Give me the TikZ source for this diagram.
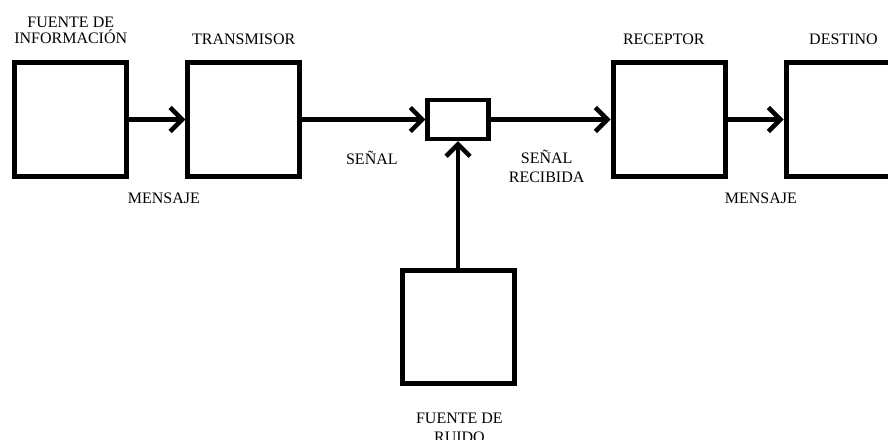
\documentclass[tikz,border=0pt]{standalone}
\usepackage{fontspec}
\setmainfont{Liberation Serif}
\usetikzlibrary{arrows.meta}

\tikzstyle{arrow} = [line width=3.4pt,-{Straight Barb[length=9pt,width=18pt]}]
\tikzstyle{bloque} = [
        rectangle,
        minimum width=84pt,
        minimum height=85pt,
        draw=black,
        line width=3.75pt,
        fill=white
    ]
\tikzstyle{sumador} = [
        rectangle,
        minimum width=45.5pt,
        minimum height=29pt,
        draw=black,
        line width=3.4pt,
        fill=white
    ]
\tikzstyle{etiqueta} = [
        text centered,
        align=center,
        inner sep=0pt,
        font=\fontsize{12}{14}\selectfont
    ]

\begin{document}
\begin{tikzpicture}[x=0.75pt, y=-0.75pt, node distance=129.75pt]
        \clip (0,0) rectangle (888,439);
        \node [bloque] (fuente) at (70.75,119.5) {};
        \node [bloque, right of=fuente] (transmisor) {};
        \node [sumador, right of=transmisor, xshift=31pt] (sumador) {};
        \node [bloque, right of=sumador, xshift=28.5pt] (receptor) {};
        \node [bloque, right of=receptor] (destino) {};
        \node [bloque, below of=sumador, yshift=-26pt] (ruido) {};
        % titulos
        \node [etiqueta, anchor=base, font=\fontsize{12}{12.5}\selectfont] (tfuente) at ([yshift=12.5pt]fuente.north) {FUENTE DE\\INFORMACIÓN};
        \node [etiqueta, anchor=base] (ttransmisor) at ([yshift=12pt]transmisor.north) {TRANSMISOR};
        \node [etiqueta, anchor=base] (treceptor) at ([yshift=12pt, xshift=-4pt]receptor.north) {RECEPTOR};
        \node [etiqueta, anchor=base] (tdestino) at ([yshift=12pt, xshift=1pt]destino.north) {DESTINO};
        \node [etiqueta, anchor=base] (truido) at ([yshift=-42pt, xshift=1pt]ruido.south) {FUENTE DE\\RUIDO};
        % conexiones
        \draw [arrow] (fuente) -- (transmisor) node[etiqueta, midway, anchor=base, xshift=5pt, yshift=-63pt]{MENSAJE};
        \draw [arrow] (transmisor) -- (sumador) node[etiqueta, midway, anchor=base, xshift=6pt, yshift=-34pt]{SEÑAL};
        \draw [arrow] (sumador) -- (receptor) node[etiqueta, midway, anchor=base, xshift=-3pt, yshift=-47pt]{SEÑAL\\RECIBIDA};
        \draw [arrow] (receptor) -- (destino) node[etiqueta, midway, anchor=base, xshift=4pt, yshift=-63pt]{MENSAJE};
        \draw [arrow] (ruido) -- (sumador);
    \end{tikzpicture}
\end{document}
